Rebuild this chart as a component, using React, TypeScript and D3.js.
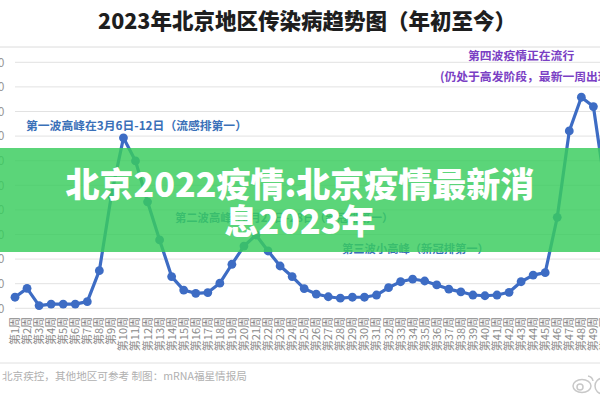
import React from "react";
import * as d3 from "d3";

const weeks: number[] = Array.from({ length: 50 }, (_, i) => i + 1);
const weekLabels: string[] = weeks.map((w) => `第${w}周`);
const values: number[] = [
  45, 81, 11, 17, 17, 17, 27, 153, 460, 693,
  599, 433, 278, 129, 74, 61, 64, 102, 179, 253,
  298, 233, 172, 129, 80, 58, 47, 41, 45, 45,
  54, 84, 108, 119, 111, 95, 78, 67, 54, 51,
  54, 65, 108, 135, 145, 370, 721, 858, 820, 483,
];
const yTicks: number[] = [0, 100, 200, 300, 400, 500, 600, 700, 800, 900, 1000];

const title = "2023年北京地区传染病趋势图（年初至今）";
const note1 = "第一波高峰在3月6日-12日（流感排第一）";
const note2 = "第二波高峰在5月22日-28日（新冠排第一）";
const note3 = "第三波小高峰（新冠排第一）";
const note4a = "第四波疫情正在流行";
const note4b = "(仍处于高发阶段，最新一周出现下降)";
const bannerLines: string[] = ["北京2022疫情:北京疫情最新消", "息2023年"];
const footer = "北京疾控，其他地区可参考 制图：mRNA福星情报局";

const FONT = "'Noto Sans CJK SC', 'Noto Sans', sans-serif";

export default function App() {
  const W = 600;
  const H = 400;
  const x = d3
    .scalePoint<number>()
    .domain(weeks)
    .range([15, 15 + 49 * 12.05]);
  const y = d3.scaleLinear().domain([0, 1000]).range([308.3, 62.3]);
  const line = d3
    .line<number>()
    .x((_, i) => x(weeks[i]) as number)
    .y((d) => y(d))
    .curve(d3.curveLinear);

  const blue = "#3d6cc4";
  const noteBlue = "#3a70b8";

  return (
    <svg
      width={W}
      height={H}
      style={{ position: "absolute", left: 0, top: 0, background: "#fff" }}
      fontFamily={FONT}
    >
      <rect x={0} y={0} width={W} height={H} fill="#fff" />
      <text x={307} y={29} textAnchor="middle" fontSize={21.5} fontWeight={900} fill="#1e1e1e">
        {title}
      </text>
      <line x1={0} x2={W} y1={47} y2={47} stroke="#dcdcdc" strokeWidth={1} />

      {yTicks.map((t) => (
        <g key={t}>
          <line x1={15} x2={W} y1={y(t)} y2={y(t)} stroke="#e2e2e2" strokeWidth={1} />
          <text x={4.5} y={y(t)} dy="0.35em" textAnchor="end" fontSize={12} fill="#999">
            {t}
          </text>
        </g>
      ))}

      {weeks.map((w, i) => (
        <text
          key={w}
          transform={`translate(${x(w)},317) rotate(-90)`}
          textAnchor="end"
          dy="0.36em"
          fontSize={11}
          fill="#8a8a8a"
        >
          {weekLabels[i]}
        </text>
      ))}

      <path d={line(values) || ""} fill="none" stroke={blue} strokeWidth={3.2} strokeLinejoin="round" />
      {values.map((v, i) => (
        <circle key={i} cx={x(weeks[i]) as number} cy={y(v)} r={4.4} fill={blue} />
      ))}

      <text x={26} y={130} fontSize={11.8} fontWeight="bold" fill={noteBlue}>
        {note1}
      </text>
      <text x={175} y={222} fontSize={11.3} fontWeight="bold" fill={noteBlue}>
        {note2}
      </text>
      <text x={342} y={252.5} fontSize={11.3} fontWeight="bold" fill={noteBlue}>
        {note3}
      </text>
      <text x={468} y={60} fontSize={11.8} fontWeight="bold" fill="#7a3fc4">
        {note4a}
      </text>
      <text x={440} y={81} fontSize={11.8} fontWeight="bold" fill="#7a3fc4">
        {note4b}
      </text>

      <rect x={0} y={148} width={W} height={104} fill="rgb(58,205,94)" fillOpacity={0.83} />
      {bannerLines.map((s, i) => (
        <text
          key={i}
          x={300}
          y={197 + i * 37}
          textAnchor="middle"
          fontSize={34}
          fontWeight={900}
          fill="#fff"
        >
          {s}
        </text>
      ))}

      <line x1={0} x2={W} y1={363} y2={363} stroke="#e0e0e0" strokeWidth={1} />
      <text x={2} y={380} fontSize={10.6} fill="#b0b0b0">
        {footer}
      </text>
      <g fill="none" stroke="#c8c8c8" strokeWidth={1.5}>
        <ellipse cx={582} cy={386} rx={9} ry={6.5} />
        <circle cx={580} cy={387} r={3} />
        <path d="M588,376 a6,6 0 0 1 5,5" />
        <circle cx={603} cy={386} r={8} />
      </g>
    </svg>
  );
}
